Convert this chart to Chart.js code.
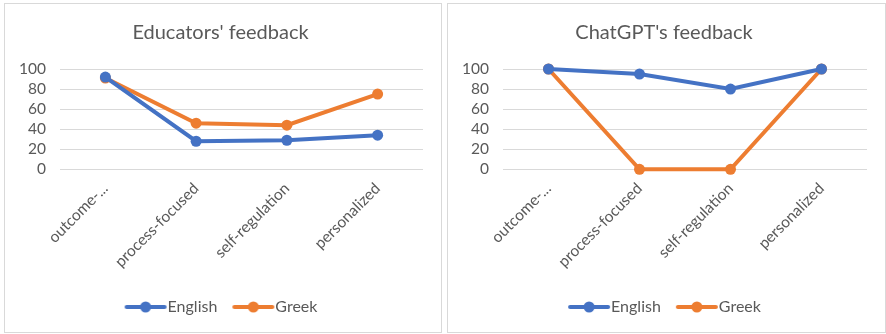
<!DOCTYPE html>
<html>
<head>
<meta charset="utf-8">
<script src="https://cdn.jsdelivr.net/npm/chart.js@4/dist/chart.umd.min.js"></script>
<style>
body { margin: 0; background: #fff; width: 886px; height: 334px; overflow: hidden; position: relative; }
.panel { position: absolute; top: 3px; height: 328px; border: 1px solid #d9d9d9; background: #fff; }
#p1 { left: 4px; width: 436px; }
#p2 { left: 447px; width: 437px; }
canvas { display: block; }
</style>
</head>
<body>
<div class="panel" id="p1"><canvas id="c1"></canvas></div>
<div class="panel" id="p2"><canvas id="c2"></canvas></div>
<script>
// data
const categories = ["outcome-...", "process-focused", "self-regulation", "personalized"];
const educatorsEnglish = [92, 28, 29, 34];
const educatorsGreek = [91, 46, 44, 75];
const chatgptEnglish = [100, 95, 80, 100];
const chatgptGreek = [100, 0, 0, 100];
const yMin = 0, yMax = 100, yStep = 20;

const BLUE = '#4472C4';
const ORANGE = '#ED7D31';
const TEXT = '#595959';
const FONT = 'Lato, "Open Sans", sans-serif';

// legend marker: line with a dot in the middle, shifted so text sits close
function legendMarker(color) {
    const c = document.createElement('canvas');
    c.width = 52; c.height = 12;
    const ctx = c.getContext('2d');
    ctx.strokeStyle = color;
    ctx.lineWidth = 4;
    ctx.lineCap = 'round';
    ctx.beginPath(); ctx.moveTo(11, 6); ctx.lineTo(49, 6); ctx.stroke();
    ctx.fillStyle = color;
    ctx.beginPath(); ctx.arc(30, 6, 5.5, 0, Math.PI * 2); ctx.fill();
    return c;
}
const markers = [legendMarker(BLUE), legendMarker(ORANGE)];

function makeChart(id, title, english, greek) {
    const ds = (label, data, color) => ({
        label: label,
        data: data,
        borderColor: color,
        backgroundColor: color,
        borderWidth: 4,
        pointRadius: 5.5,
        pointBorderWidth: 0,
        pointHoverRadius: 5.5,
        tension: 0,
        clip: false
    });
    return new Chart(document.getElementById(id), {
        type: 'line',
        data: {
            labels: categories,
            datasets: [ds('English', english, BLUE), ds('Greek', greek, ORANGE)]
        },
        options: {
            responsive: true,
            maintainAspectRatio: false,
            animation: false,
            layout: { padding: { left: 13, right: 18, top: 0, bottom: 7 } },
            plugins: {
                title: {
                    display: true,
                    text: title,
                    color: TEXT,
                    font: { family: FONT, size: 20, weight: 'normal' },
                    padding: { top: 17, bottom: 24 }
                },
                legend: {
                    position: 'bottom',
                    labels: {
                        usePointStyle: true,
                        pointStyleWidth: 36,
                        padding: 14,
                        color: TEXT,
                        font: { family: FONT, size: 16 },
                        generateLabels: chart => chart.data.datasets.map((d, i) => ({
                            text: d.label,
                            pointStyle: markers[i],
                            fillStyle: d.borderColor,
                            strokeStyle: d.borderColor,
                            lineWidth: 0,
                            fontColor: TEXT,
                            hidden: false,
                            datasetIndex: i
                        }))
                    }
                },
                tooltip: { enabled: false }
            },
            scales: {
                x: {
                    offset: true,
                    afterFit: s => { s.height += 4; },
                    grid: { display: false, drawTicks: false },
                    border: { display: false },
                    ticks: {
                        color: TEXT,
                        font: { family: FONT, size: 15.5 },
                        maxRotation: 45,
                        minRotation: 45,
                        padding: 10,
                        autoSkip: false
                    }
                },
                y: {
                    min: yMin,
                    max: yMax,
                    afterFit: s => { s.width = 42; },
                    grid: { color: '#d9d9d9', lineWidth: 1, drawTicks: false },
                    border: { display: false },
                    ticks: {
                        stepSize: yStep,
                        autoSkip: false,
                        color: TEXT,
                        font: { family: FONT, size: 15.5 },
                        padding: 14
                    }
                }
            }
        }
    });
}

makeChart('c1', "Educators' feedback", educatorsEnglish, educatorsGreek);
makeChart('c2', "ChatGPT's feedback", chatgptEnglish, chatgptGreek);
</script>
</body>
</html>
